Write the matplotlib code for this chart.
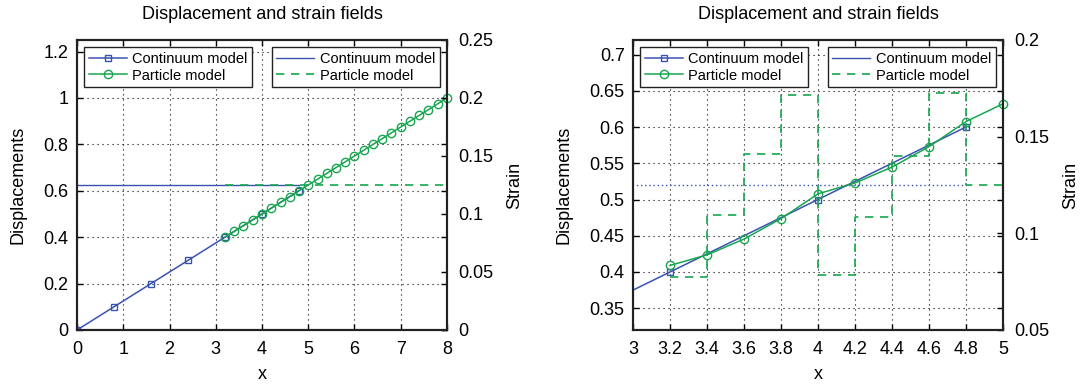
import matplotlib
matplotlib.use("Agg")
import matplotlib.pyplot as plt
from matplotlib.lines import Line2D

plt.rcParams['font.family'] = ['Liberation Sans', 'DejaVu Sans']

# ---------------- data ----------------
cont_x = [0.0, 0.8, 1.6, 2.4, 3.2, 4.0, 4.8]
cont_u = [0.0, 0.1, 0.2, 0.3, 0.4, 0.5, 0.6]
cont_strain_x = [0.0, 4.8]
cont_strain = [0.125, 0.125]

# left panel: particle model (uniform)
part_x_left = [3.2, 3.4, 3.6, 3.8, 4.0, 4.2, 4.4, 4.6, 4.8, 5.0, 5.2, 5.4, 5.6,
               5.8, 6.0, 6.2, 6.4, 6.6, 6.8, 7.0, 7.2, 7.4, 7.6, 7.8, 8.0]
part_u_left = [0.400, 0.425, 0.450, 0.475, 0.500, 0.525, 0.550, 0.575, 0.600,
               0.625, 0.650, 0.675, 0.700, 0.725, 0.750, 0.775, 0.800, 0.825,
               0.850, 0.875, 0.900, 0.925, 0.950, 0.975, 1.000]
part_strain_x_left = [3.2, 8.0]
part_strain_left = [0.125, 0.125]

# right panel: particle model (perturbed)
part_x_right = [3.2, 3.4, 3.6, 3.8, 4.0, 4.2, 4.4, 4.6, 4.8, 5.0]
part_u_right = [0.409, 0.4236, 0.4454, 0.4736, 0.5078, 0.5228, 0.5447, 0.5728,
                0.6075, 0.632]
part_strain_right = [0.0773, 0.1095, 0.141, 0.1714, 0.0784, 0.1086, 0.140,
                     0.1724, 0.125, 0.125]

xticks_left = [0, 1, 2, 3, 4, 5, 6, 7, 8]
yticks_left = [0, 0.2, 0.4, 0.6, 0.8, 1, 1.2]
y2ticks_left = [0, 0.05, 0.1, 0.15, 0.2, 0.25]
xticks_right = [3, 3.2, 3.4, 3.6, 3.8, 4, 4.2, 4.4, 4.6, 4.8, 5]
yticks_right = [0.35, 0.4, 0.45, 0.5, 0.55, 0.6, 0.65, 0.7]
y2ticks_right = [0.05, 0.1, 0.15, 0.2]

BLUE = '#3a52b0'
GREEN = '#17a64f'
FS = 13
LFS = 10.5


def fmt(v):
    return '%g' % v


fig = plt.figure(figsize=(10.84, 3.86), dpi=100)


def make_panel(rect, xlim, ylim, y2lim, xticks, yticks, y2ticks,
               px, pu, psx, ps, cstrain_ls):
    ax = fig.add_axes(rect)
    ax2 = ax.twinx()
    ax.set_xlim(*xlim)
    ax.set_ylim(*ylim)
    ax2.set_ylim(*y2lim)
    ax.set_xticks(xticks)
    ax.set_xticklabels([fmt(v) for v in xticks])
    ax.set_yticks(yticks)
    ax.set_yticklabels([fmt(v) for v in yticks])
    ax2.set_yticks(y2ticks)
    ax2.set_yticklabels([fmt(v) for v in y2ticks])

    ax.grid(True, color='k', linestyle=(0, (1, 3.5)), linewidth=0.8)
    ax.set_axisbelow(True)

    # displacements
    ax.plot(cont_x, cont_u, color=BLUE, lw=1.1, marker='s', ms=5,
            mfc='none', mec=BLUE, mew=1.0, zorder=3)
    ax.plot(px, pu, color=GREEN, lw=1.1, marker='o', ms=6,
            mfc='none', mec=GREEN, mew=1.0, zorder=4, clip_on=False)

    # strains
    ax2.plot(cont_strain_x, cont_strain, color=BLUE, lw=1.0,
             linestyle=cstrain_ls)
    ax2.step(psx, ps, where='post', color=GREEN, lw=1.2,
             linestyle=(0, (5, 4)))

    for a in (ax, ax2):
        for sp in a.spines.values():
            sp.set_linewidth(1.5)
            sp.set_color('#222222')
    ax.tick_params(direction='in', length=4, width=1, labelsize=FS,
                   top=True, right=True, pad=6)
    ax.tick_params(axis='x', pad=8)
    ax2.tick_params(direction='in', length=4, width=1, labelsize=FS, pad=8)

    ax.set_xlabel('x', fontsize=FS, labelpad=6)
    ax.set_ylabel('Displacements', fontsize=FS, labelpad=12)
    ax2.set_ylabel('Strain', fontsize=FS, labelpad=9)
    ax.set_title('Displacement and strain fields', fontsize=FS, pad=15)

    h1 = [Line2D([], [], color=BLUE, lw=1.1, marker='s', ms=5, mfc='none',
                 mec=BLUE),
          Line2D([], [], color=GREEN, lw=1.1, marker='o', ms=6, mfc='none',
                 mec=GREEN)]
    h2 = [Line2D([], [], color=BLUE, lw=1.0),
          Line2D([], [], color=GREEN, lw=1.2, linestyle=(0, (5, 4)))]
    labels = ['Continuum model', 'Particle model']
    leg_kw = dict(fontsize=LFS, fancybox=False, framealpha=1,
                  edgecolor='#222222', borderpad=0.3, labelspacing=0.2,
                  handlelength=2.6, handletextpad=0.4, borderaxespad=0.5)
    l1 = ax2.legend(h1, labels, loc='upper left', **leg_kw)
    l1.get_frame().set_linewidth(1.0)
    ax2.add_artist(l1)
    l2 = ax2.legend(h2, labels, loc='upper right', **leg_kw)
    l2.get_frame().set_linewidth(1.0)
    return ax, ax2


W = 370 / 1084
H = 290 / 386
B = 56 / 386

make_panel([77 / 1084, B, W, H], (0, 8), (0, 1.25), (0, 0.25),
           xticks_left, yticks_left, y2ticks_left,
           part_x_left, part_u_left, part_strain_x_left, part_strain_left,
           '-')

make_panel([633 / 1084, B, W, H], (3, 5), (0.32, 0.72), (0.05, 0.2),
           xticks_right, yticks_right, y2ticks_right,
           part_x_right, part_u_right, part_x_right, part_strain_right,
           (0, (1, 2)))

fig.savefig('out.png', dpi=100)
